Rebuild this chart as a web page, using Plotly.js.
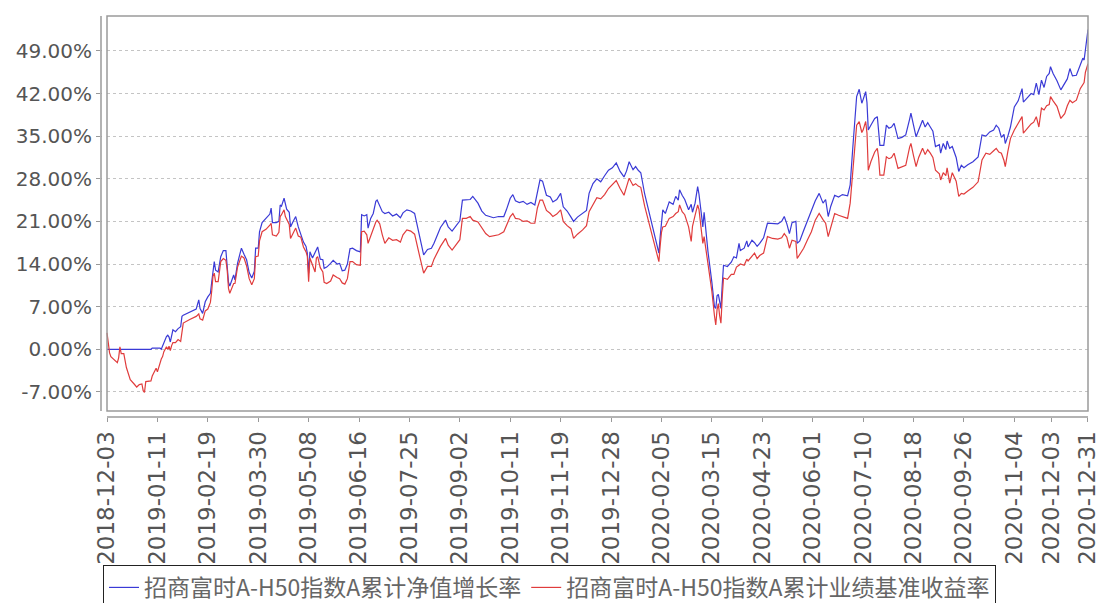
<!DOCTYPE html>
<html>
<head>
<meta charset="utf-8">
<script src="https://cdn.plot.ly/plotly-3.0.1.min.js"></script>
<style>html,body{margin:0;padding:0;background:#fff;overflow:hidden;}#chart{width:1099px;height:640px;}</style>
</head>
<body>
<div id="chart"></div>
<script>
const seriesNames = ['招商富时A-H50指数A累计净值增长率', '招商富时A-H50指数A累计业绩基准收益率'];

const dates = [
'2018-12-03','2018-12-05','2018-12-06','2018-12-09','2018-12-11','2018-12-12','2018-12-13','2018-12-14','2018-12-16','2018-12-18',
'2018-12-21','2018-12-24','2018-12-26','2018-12-28','2018-12-30','2018-12-31','2019-01-01','2019-01-02','2019-01-06','2019-01-07',
'2019-01-08','2019-01-10','2019-01-11','2019-01-12','2019-01-13','2019-01-14','2019-01-15','2019-01-16','2019-01-18','2019-01-19',
'2019-01-20','2019-01-21','2019-01-22','2019-01-23','2019-01-25','2019-01-27','2019-01-29','2019-01-30','2019-01-31','2019-02-05',
'2019-02-10','2019-02-12','2019-02-13','2019-02-15','2019-02-17','2019-02-19','2019-02-21','2019-02-22','2019-02-23','2019-02-24',
'2019-02-25','2019-02-27','2019-03-01','2019-03-03','2019-03-05','2019-03-06','2019-03-07','2019-03-08','2019-03-10','2019-03-11',
'2019-03-12','2019-03-14','2019-03-16','2019-03-17','2019-03-19','2019-03-21','2019-03-23','2019-03-25','2019-03-27','2019-03-28',
'2019-03-30','2019-03-31','2019-04-02','2019-04-05','2019-04-08','2019-04-09','2019-04-10','2019-04-13','2019-04-15','2019-04-16',
'2019-04-17','2019-04-19','2019-04-20','2019-04-21','2019-04-23','2019-04-24','2019-04-26','2019-04-28','2019-04-30','2019-05-02',
'2019-05-04','2019-05-06','2019-05-07','2019-05-08','2019-05-09','2019-05-11','2019-05-13','2019-05-14','2019-05-15','2019-05-17',
'2019-05-19','2019-05-20','2019-05-22','2019-05-25','2019-05-27','2019-05-30','2019-06-01','2019-06-03','2019-06-05','2019-06-07',
'2019-06-09','2019-06-11','2019-06-14','2019-06-17','2019-06-18','2019-06-20','2019-06-22','2019-06-23','2019-06-25','2019-06-27',
'2019-06-29','2019-06-30','2019-07-02','2019-07-04','2019-07-06','2019-07-09','2019-07-12','2019-07-15','2019-07-18','2019-07-20',
'2019-07-23','2019-07-26','2019-07-29','2019-08-01','2019-08-04','2019-08-05','2019-08-08','2019-08-11','2019-08-13','2019-08-16',
'2019-08-18','2019-08-22','2019-08-24','2019-08-27','2019-08-30','2019-09-02','2019-09-04','2019-09-07','2019-09-10','2019-09-12',
'2019-09-16','2019-09-19','2019-09-22','2019-09-25','2019-09-28','2019-10-02','2019-10-06','2019-10-08','2019-10-11','2019-10-13',
'2019-10-15','2019-10-18','2019-10-21','2019-10-24','2019-10-27','2019-10-30','2019-11-01','2019-11-03','2019-11-05','2019-11-08',
'2019-11-11','2019-11-13','2019-11-16','2019-11-19','2019-11-21','2019-11-24','2019-11-27','2019-11-29','2019-12-02','2019-12-06',
'2019-12-09','2019-12-11','2019-12-14','2019-12-17','2019-12-20','2019-12-23','2019-12-26','2019-12-29','2020-01-01','2020-01-04',
'2020-01-07','2020-01-09','2020-01-11','2020-01-14','2020-01-16','2020-01-18','2020-01-20','2020-01-23','2020-02-03','2020-02-04',
'2020-02-05','2020-02-06','2020-02-08','2020-02-11','2020-02-14','2020-02-16','2020-02-18','2020-02-19','2020-02-21','2020-02-23',
'2020-02-26','2020-02-28','2020-02-29','2020-03-02','2020-03-04','2020-03-05','2020-03-07','2020-03-08','2020-03-09','2020-03-10',
'2020-03-12','2020-03-15','2020-03-17','2020-03-18','2020-03-19','2020-03-20','2020-03-21','2020-03-22','2020-03-23','2020-03-24',
'2020-03-27','2020-03-30','2020-04-01','2020-04-03','2020-04-05','2020-04-06','2020-04-09','2020-04-11','2020-04-12','2020-04-15',
'2020-04-17','2020-04-19','2020-04-21','2020-04-24','2020-04-27','2020-05-01','2020-05-05','2020-05-08','2020-05-10','2020-05-12',
'2020-05-14','2020-05-16','2020-05-19','2020-05-20','2020-05-22','2020-05-25','2020-05-28','2020-05-31','2020-06-03','2020-06-06',
'2020-06-09','2020-06-11','2020-06-13','2020-06-15','2020-06-18','2020-06-21','2020-06-24','2020-06-28','2020-06-30','2020-07-02',
'2020-07-04','2020-07-05','2020-07-07','2020-07-09','2020-07-10','2020-07-12','2020-07-13','2020-07-14','2020-07-16','2020-07-19',
'2020-07-21','2020-07-22','2020-07-23','2020-07-26','2020-07-28','2020-07-30','2020-08-01','2020-08-03','2020-08-06','2020-08-09',
'2020-08-12','2020-08-15','2020-08-16','2020-08-18','2020-08-20','2020-08-22','2020-08-25','2020-08-27','2020-08-29','2020-08-31',
'2020-09-02','2020-09-04','2020-09-07','2020-09-08','2020-09-10','2020-09-12','2020-09-13','2020-09-15','2020-09-17','2020-09-20',
'2020-09-22','2020-09-24','2020-09-26','2020-09-29','2020-10-03','2020-10-07','2020-10-10','2020-10-13','2020-10-16','2020-10-19',
'2020-10-21','2020-10-23','2020-10-25','2020-10-27','2020-10-28','2020-10-30','2020-11-01','2020-11-04','2020-11-07','2020-11-10',
'2020-11-11','2020-11-14','2020-11-17','2020-11-19','2020-11-21','2020-11-23','2020-11-25','2020-11-27','2020-11-29','2020-12-01',
'2020-12-02','2020-12-04','2020-12-07','2020-12-10','2020-12-13','2020-12-15','2020-12-17','2020-12-19','2020-12-22','2020-12-25',
'2020-12-27','2020-12-28','2020-12-29','2020-12-31'
];

const navGrowth = [
0,0,0,0,0,0,0,0,0,0,
0,0,0,0,0,0,0,0,0,0.2,
0.2,0.2,0.2,0.2,0.2,0,0.6,1.2,2.1,2.3,
2.0,1.2,2.5,3.2,2.9,3.4,3.7,5.4,5.6,6.1,
6.6,8.1,6.7,5.9,7.8,8.6,9.2,11.0,12.5,14.4,
13.0,12.7,15.2,16.2,16.2,13.8,11.0,10.4,11.5,12.2,
11.4,14.1,15.8,16.6,15.6,14.7,12.6,11.7,12.8,16.6,
16.6,19.3,20.8,21.5,22.2,23.2,20.8,20.8,21.0,23.7,
23.5,24.8,23.7,23.0,22.5,20.1,21.0,21.8,20.1,19.0,
17.6,16.9,15.8,12.5,16.0,15.0,16.0,16.6,16.8,14.8,
14.7,13.3,13.5,14.1,14.6,14.0,14.1,12.9,13.0,14.0,
16.5,16.6,16.2,16.0,22.1,21.9,22.1,19.9,21.5,22.3,
24.3,24.5,23.6,22.6,22.3,22.5,21.9,22.2,21.6,22.4,
22.9,22.7,22.3,19.4,16.3,15.5,16.4,16.6,17.4,18.9,
20.0,21.2,20.1,19.4,20.3,21.1,24.5,24.6,24.6,25.1,
24.0,22.7,22.0,21.8,21.6,21.8,21.8,22.9,24.8,25.4,
24.4,24.1,24.3,23.8,24.1,23.7,26.0,27.8,27.6,25.3,
25.0,24.2,24.6,25.6,23.4,22.7,21.7,21.0,21.7,22.3,
22.8,25.6,27.2,28.0,27.5,28.5,29.4,29.8,30.6,29.2,
28.3,29.3,30.8,29.5,30.0,29.4,29.0,25.5,15.8,18.5,
21.5,22.9,22.3,24.2,23.8,25.1,24.5,26.2,25.3,24.6,
22.9,23.8,22.5,24.0,26.7,25.5,22.0,20.1,22.5,20.0,
16.0,11.0,7.0,6.7,8.8,9.0,7.5,6.7,10.5,13.8,
13.6,14.3,15.2,15.0,17.4,16.2,16.6,17.8,16.8,17.9,
17.5,16.9,17.4,18.3,20.7,20.7,20.6,21.0,21.8,20.6,
19.0,20.8,21.0,17.4,17.8,19.5,21.2,22.9,24.4,25.6,
24.0,24.6,21.8,23.5,25.3,25.0,25.4,25.2,27.0,33.0,
39.0,41.5,42.7,40.4,41.0,42.3,40.5,36.0,36.8,37.9,
38.2,36.0,33.5,33.5,36.8,36.3,36.5,37.1,34.6,34.8,
35.2,37.8,38.8,36.8,34.9,36.0,37.6,36.5,37.2,36.5,
35.8,33.3,33.6,32.2,33.8,32.8,34.2,33.0,33.3,31.5,
29.2,30.2,29.8,30.3,30.8,31.6,35.2,35.0,35.7,36.0,
36.8,36.3,34.8,35.3,33.8,35.0,36.5,39.8,40.8,42.8,
40.6,41.3,42.0,41.8,43.7,41.8,44.2,43.0,44.8,45.3,
46.4,45.3,44.1,42.6,43.6,44.4,46.1,44.9,45.0,46.5,
47.8,47.5,49.5,52.5
];

const benchReturn = [
2.7,-0.6,-1.2,-1.9,-2.2,-1.4,0.4,-0.7,-0.7,-3.0,
-5.0,-5.7,-6.2,-5.8,-5.7,-6.8,-7.1,-5.3,-5.2,-4.4,
-3.9,-3.1,-3.7,-2.9,-2.0,-1.6,-1.2,-0.4,0.4,0,
0.5,-0.2,0.6,1.1,1.1,1.6,1.3,2.8,4.3,4.9,
5.4,5.8,5.0,4.8,6.3,6.6,7.7,9.5,12.0,12.5,
11.1,11.1,14.4,14.9,14.6,13.0,10.0,9.2,10.3,10.8,
10.8,13.5,14.7,15.3,15.0,13.7,11.6,10.6,11.6,15.2,
15.3,17.8,19.3,19.7,20.4,20.7,18.8,18.6,19.2,21.8,
22.1,22.9,21.8,21.3,20.5,18.2,19.0,19.9,18.6,18.4,
16.8,16.0,15.3,11.1,15.0,13.7,12.7,15.0,15.2,13.4,
12.7,11.0,10.8,11.2,12.2,11.8,11.6,10.9,10.7,11.6,
14.4,14.4,13.9,13.8,19.3,19.4,18.8,17.4,18.6,19.5,
20.9,21.2,20.6,18.8,17.4,18.3,17.9,18.0,17.6,18.8,
19.6,19.4,18.9,16.1,13.4,12.5,13.6,13.6,14.8,16.1,
16.9,18.2,17.1,16.3,17.2,18.0,21.5,21.5,21.8,21.2,
20.9,19.9,19.0,18.5,18.6,18.8,19.3,20.2,21.8,22.3,
21.5,21.4,21.0,21.1,20.7,20.7,23.2,24.5,24.5,22.8,
22.3,21.8,22.2,22.9,21.0,20.3,19.8,18.2,18.9,19.6,
20.3,22.6,23.8,24.9,24.7,25.4,26.4,27.0,27.7,26.4,
25.3,26.7,28.1,26.9,27.2,26.8,26.6,23.5,14.4,17.0,
19.2,20.1,20.2,21.5,21.8,22.3,22.6,23.7,22.6,22.1,
20.1,17.7,20.2,22.0,23.7,23.0,19.5,17.4,18.5,17.0,
14.0,9.5,5.5,4.0,6.5,7.5,5.5,4.3,8.5,11.7,
11.5,12.3,12.3,13.5,13.8,14.0,13.8,14.8,14.5,15.4,
15.8,14.9,15.4,15.8,18.5,18.2,18.1,18.3,19.0,18.4,
16.6,17.9,17.7,14.9,15.6,16.6,18.0,19.3,21.2,22.3,
21.3,20.7,18.5,20.0,22.3,22.0,21.8,21.5,24.0,29.5,
35.0,36.8,37.4,35.6,36.0,37.4,35.5,29.4,30.8,32.4,
33.0,31.5,28.6,28.6,31.6,31.3,31.5,32.2,29.7,29.9,
30.2,33.2,33.8,31.8,30.0,31.5,33.0,32.0,32.8,32.2,
31.5,29.4,28.8,27.8,29.0,28.5,29.8,27.3,29.0,27.6,
25.1,25.6,25.5,26.0,26.6,27.5,31.1,32.2,32.0,32.6,
33.0,32.4,32.2,31.0,30.0,32.5,34.6,36.0,37.2,38.2,
35.5,36.3,37.0,37.3,38.2,36.5,39.6,39.3,40.0,40.2,
41.5,40.8,39.9,37.9,38.7,40.0,40.9,40.5,40.9,42.8,
43.5,43.8,45.5,46.9
];

const yTickVals = [-7, 0, 7, 14, 21, 28, 35, 42, 49];
const yTickText = ['-7.00%', '0.00%', '7.00%', '14.00%', '21.00%', '28.00%', '35.00%', '42.00%', '49.00%'];
const xTickVals = ['2018-12-03','2019-01-11','2019-02-19','2019-03-30','2019-05-08','2019-06-16','2019-07-25',
  '2019-09-02','2019-10-11','2019-11-19','2019-12-28','2020-02-05','2020-03-15','2020-04-23','2020-06-01',
  '2020-07-10','2020-08-18','2020-09-26','2020-11-04','2020-12-03','2020-12-31'];

const traces = [
  {x: dates, y: navGrowth, name: seriesNames[0], type: 'scatter', mode: 'lines',
   line: {color: '#3a3ad6', width: 1.2}},
  {x: dates, y: benchReturn, name: seriesNames[1], type: 'scatter', mode: 'lines',
   line: {color: '#e03c3c', width: 1.2}}
];

const gapX = 6 / 987;
const gapY = 6 / 401;

const layout = {
  width: 1099, height: 640,
  margin: {l: 101, r: 11, t: 16, b: 223, pad: 0, autoexpand: false},
  paper_bgcolor: '#ffffff', plot_bgcolor: '#ffffff',
  showlegend: true,
  legend: {
    orientation: 'h', x: 0.002, xanchor: 'left', y: -0.369, yanchor: 'top',
    bordercolor: '#222', borderwidth: 1, bgcolor: '#ffffff',
    font: {family: 'Noto Sans CJK SC, sans-serif', size: 23, color: '#666'},
    itemwidth: 30, tracegroupgap: 0
  },
  xaxis: {
    type: 'date',
    range: ['2018-11-28 08:36', '2020-12-31 00:10'],
    tickvals: xTickVals, ticktext: xTickVals,
    tickangle: -90, ticklabeloverflow: 'allow',
    ticks: 'outside', ticklen: 4, tickcolor: '#999', tickwidth: 1,
    showline: false, showgrid: false, zeroline: false,
    tickfont: {family: 'DejaVu Sans, sans-serif', size: 23, color: '#555'}
  },
  yaxis: {
    range: [-11.12, 54.73],
    tickvals: yTickVals, ticktext: yTickText,
    ticks: 'outside', ticklen: 4, tickcolor: '#999', tickwidth: 1,
    showline: false, zeroline: false,
    showgrid: true, gridcolor: '#c4c4c4', gridwidth: 1, griddash: '3px,3px',
    tickfont: {family: 'DejaVu Sans, sans-serif', size: 20, color: '#555'}
  },
  shapes: [
    {type: 'rect', xref: 'paper', yref: 'paper', x0: 0.001, x1: gapX - 0.001, y0: 0, y1: 1,
     fillcolor: '#ffffff', line: {width: 0}, layer: 'above'},
    {type: 'rect', xref: 'paper', yref: 'paper', x0: gapX, x1: 1, y0: gapY, y1: 1,
     line: {color: '#9a9a9a', width: 1.5}, fillcolor: 'rgba(0,0,0,0)', layer: 'above'},
    {type: 'line', xref: 'paper', yref: 'paper', x0: gapX, x1: 1, y0: 0, y1: 0,
     line: {color: '#9a9a9a', width: 1.5}, layer: 'above'},
    {type: 'line', xref: 'paper', yref: 'paper', x0: 0, x1: 0, y0: gapY, y1: 1,
     line: {color: '#9a9a9a', width: 1.5}, layer: 'above'}
  ]
};

Plotly.newPlot('chart', traces, layout, {displayModeBar: false, staticPlot: true});
</script>
</body>
</html>
